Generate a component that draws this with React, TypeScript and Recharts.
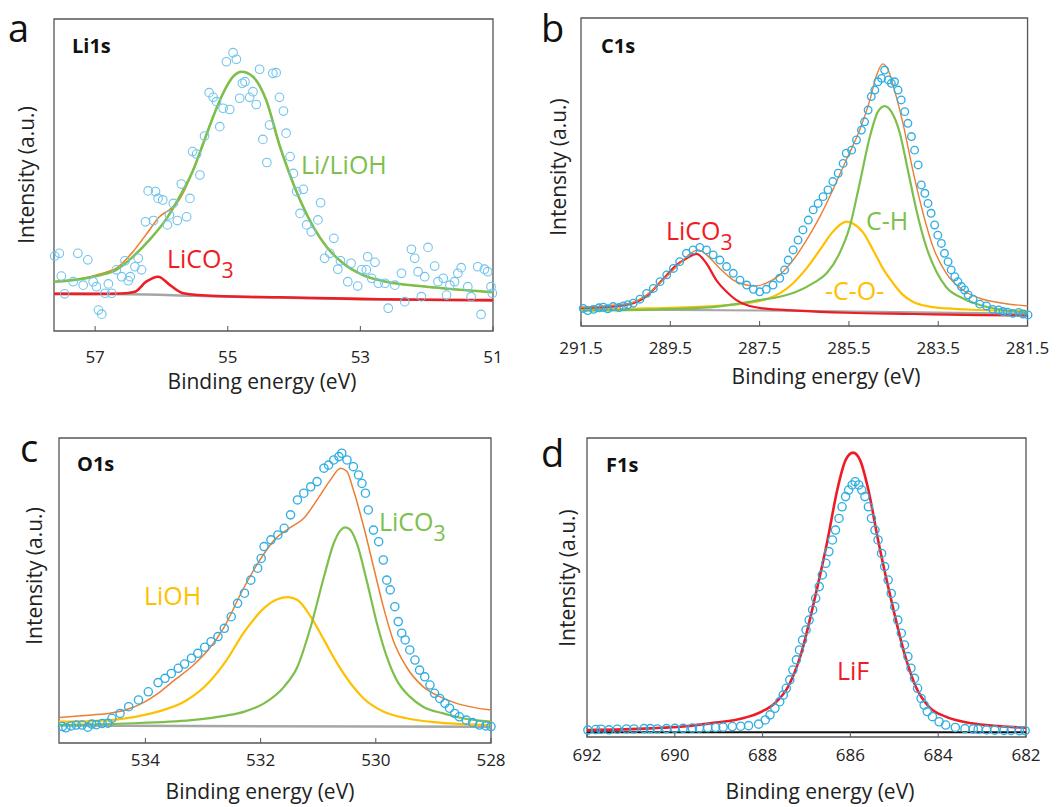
import React from "react";
import { ComposedChart, Line, Scatter, XAxis, YAxis, ReferenceArea } from "recharts";

const FONT = "'Open Sans', 'DejaVu Sans', sans-serif";

const COLORS = {
  data: "#2faee3",
  dataLight: "#6fc4ec",
  sum: "#ed7d31",
  green: "#7cc04b",
  red: "#ee1c24",
  gold: "#ffc000",
  gray: "#a6a6a6",
  black: "#111111",
  frame: "#555555",
};

type Pt = [number, number];

// ---- a: Li1s ----
const li1sTicks = [57, 55, 53, 51];
const li1sPoints: Pt[] = [
  [57.61, 24.0], [57.54, 24.9], [57.51, 17.6], [57.46, 11.9], [57.33, 15.8], [57.26, 24.9], [57.18, 14.7],
  [57.11, 22.8], [57.03, 15.8], [56.98, 14.2], [56.95, 6.7], [56.9, 5.4], [56.8, 15.1], [56.85, 12.1],
  [56.75, 12.1], [56.68, 19.6], [56.6, 17.4], [56.55, 22.5], [56.5, 16.1], [56.47, 17.4], [56.4, 20.6],
  [56.35, 23.3], [56.3, 19.6], [56.2, 44.9], [56.09, 44.7], [56.05, 42.5], [55.98, 42.0], [56.24, 35.0],
  [56.12, 35.4], [55.91, 34.0], [55.82, 40.9], [55.88, 37.2], [55.76, 35.4], [55.7, 47.1], [55.57, 42.5],
  [55.62, 36.6], [55.53, 57.5], [55.47, 56.7], [55.42, 50.0], [55.35, 62.5], [55.28, 76.4], [55.22, 74.9],
  [55.17, 73.5], [55.12, 65.5], [55.07, 71.4], [54.97, 71.0], [55.02, 86.3], [54.92, 89.2], [54.87, 87.1],
  [54.78, 79.4], [54.74, 79.9], [54.82, 74.6], [54.67, 74.9], [54.62, 76.7], [54.57, 72.6], [54.52, 83.9],
  [54.47, 61.4], [54.41, 54.0], [54.37, 66.0], [54.32, 82.6], [54.27, 82.8], [54.22, 74.9], [54.16, 70.5],
  [54.12, 63.4], [54.06, 55.9], [54.01, 50.5], [53.96, 44.7], [53.86, 45.4], [53.6, 41.1], [53.91, 37.7],
  [53.81, 34.0], [53.74, 31.8], [53.64, 35.6], [53.4, 29.7], [53.54, 23.3], [53.46, 24.9], [53.3, 22.5],
  [53.34, 19.8], [53.19, 15.8], [53.14, 21.7], [53.04, 14.4], [52.98, 19.6], [52.89, 23.8], [52.91, 19.6],
  [52.78, 22.0], [52.83, 16.9], [52.73, 15.3], [52.63, 15.3], [52.58, 7.3], [52.48, 14.7], [52.38, 18.5],
  [52.33, 9.4], [52.23, 26.2], [52.18, 23.3], [52.13, 19.0], [52.08, 11.0], [52.03, 17.4], [51.98, 26.8],
  [51.88, 20.8], [51.83, 15.8], [51.75, 16.9], [51.7, 11.5], [51.65, 14.7], [51.58, 15.8], [51.53, 18.5],
  [51.48, 20.3], [51.38, 14.2], [51.33, 11.0], [51.23, 20.6], [51.18, 5.3], [51.13, 19.8], [51.08, 19.0],
  [51.03, 14.2], [51.01, 12.1],
];
const li1sBase: Pt[] = [[57.62, 11.9], [56.5, 11.8], [55.5, 11.3], [54.5, 10.8], [53, 10.2], [51, 9.8]];
const li1sLiOH: Pt[] = [
  [57.62, 15.8], [57.2, 16.7], [56.93, 17.9], [56.68, 19.6], [56.43, 23.8], [56.18, 29.2], [55.92, 36.1],
  [55.67, 45.2], [55.52, 51.6], [55.37, 60.1], [55.22, 68.7], [55.07, 76.2], [54.92, 81.5], [54.79, 83.1],
  [54.62, 81.5], [54.42, 74.0], [54.22, 59.6], [54.07, 50.5], [53.91, 42.0], [53.71, 33.4], [53.51, 27.0],
  [53.26, 21.7], [52.96, 17.9], [52.61, 15.8], [52.11, 14.4], [51.6, 13.4], [51.0, 12.4],
];
const li1sSum: Pt[] = [
  [57.62, 15.8], [57.2, 16.8], [56.93, 18.3], [56.68, 20.1], [56.43, 25.4], [56.18, 32.4], [56.03, 36.6],
  [55.87, 39.0], [55.75, 41.5], [55.62, 46.6], [55.52, 51.8], [55.37, 60.1], [55.22, 68.7], [55.07, 76.2],
  [54.92, 81.5], [54.79, 83.1], [54.62, 81.5], [54.42, 74.0], [54.22, 59.6], [54.07, 50.5], [53.91, 42.0],
  [53.71, 33.4], [53.51, 27.0], [53.26, 21.7], [52.96, 17.9], [52.61, 15.8], [52.11, 14.4], [51.6, 13.4],
  [51.0, 12.4],
];
const li1sCO3: Pt[] = [
  [57.62, 11.9], [57.0, 11.9], [56.6, 12.0], [56.4, 12.6], [56.23, 15.8], [56.05, 17.4], [55.87, 14.7],
  [55.67, 12.1], [55.17, 11.2], [54.22, 10.8], [53.0, 10.3], [52.0, 10.0], [51.0, 9.9],
];

// ---- b: C1s ----
const c1sTicks = [291.5, 289.5, 287.5, 285.5, 283.5, 281.5];
const c1sPoints: Pt[] = [
  [291.45, 5.7], [291.35, 5.0], [291.22, 5.4], [291.1, 5.9], [291.0, 6.1], [290.9, 5.6], [290.78, 6.3],
  [290.65, 6.0], [290.55, 6.5], [290.45, 6.9], [290.33, 7.4], [290.18, 8.7], [290.03, 10.6], [289.88, 12.2],
  [289.73, 14.4], [289.58, 16.6], [289.43, 18.7], [289.29, 20.9], [289.14, 23.6], [288.99, 24.7],
  [288.84, 25.5], [288.69, 24.7], [288.54, 23.1], [288.39, 21.4], [288.24, 19.3], [288.09, 17.1],
  [287.94, 14.9], [287.79, 13.3], [287.64, 11.9], [287.5, 11.1], [287.35, 11.9], [287.2, 13.3],
  [287.05, 15.5], [286.94, 18.2], [286.86, 21.4], [286.75, 24.7], [286.64, 27.9], [286.53, 31.2],
  [286.41, 34.4], [286.3, 37.7], [286.19, 39.8], [286.08, 42.0], [285.97, 44.2], [285.86, 46.9],
  [285.74, 49.6], [285.63, 52.8], [285.56, 56.1], [285.44, 57.1], [285.33, 60.4], [285.22, 63.6],
  [285.15, 66.3], [285.07, 70.1], [285.0, 74.5], [284.92, 76.6], [284.85, 79.3], [284.77, 80.4],
  [284.7, 83.1], [284.62, 79.9], [284.55, 78.8], [284.48, 79.3], [284.4, 76.6], [284.33, 73.4],
  [284.25, 69.6], [284.18, 65.8], [284.1, 61.5], [284.03, 57.1], [283.95, 52.3], [283.88, 45.8],
  [283.8, 43.1], [283.73, 39.8], [283.66, 36.6], [283.58, 32.8], [283.51, 29.5], [283.43, 26.8],
  [283.36, 23.6], [283.28, 20.9], [283.21, 18.2], [283.13, 16.0], [283.06, 14.4], [282.98, 12.8],
  [282.91, 11.7], [282.83, 10.1], [282.72, 8.7], [282.57, 7.1], [282.42, 6.5], [282.28, 5.4],
  [282.15, 5.2], [282.05, 4.7], [281.95, 4.5], [281.83, 4.1], [281.7, 4.4], [281.6, 3.9], [281.49, 3.6],
];
const c1sBase: Pt[] = [[291.5, 5.4], [287, 5.0], [284, 4.4], [281.5, 4.0]];
const c1sCO3: Pt[] = [
  [291.5, 5.9], [290.8, 6.3], [290.3, 7.6], [290.05, 9.5], [289.68, 14.9], [289.37, 19.7], [289.14, 21.9],
  [288.91, 23.4], [288.69, 20.3], [288.47, 14.9], [288.24, 11.1], [288.02, 8.4], [287.79, 6.8],
  [287.42, 5.7], [286.68, 5.0], [285.56, 4.3], [284.07, 3.9], [282.57, 3.5], [281.5, 3.4],
];
const c1sCO: Pt[] = [
  [291.5, 5.2], [290.03, 5.7], [288.54, 6.5], [287.79, 7.4], [287.35, 8.7], [287.05, 10.6], [286.75, 13.9],
  [286.45, 18.7], [286.15, 24.7], [285.86, 30.6], [285.63, 33.5], [285.56, 33.9], [285.41, 33.3],
  [285.18, 30.3], [284.96, 24.7], [284.74, 18.7], [284.51, 13.9], [284.29, 10.1], [284.07, 7.9],
  [283.69, 6.3], [283.32, 5.7], [282.57, 5.2], [281.5, 4.9],
];
const c1sCH: Pt[] = [
  [291.5, 5.0], [290.0, 5.3], [288.5, 6.2], [287.5, 8.4], [287.05, 9.5], [286.68, 11.1], [286.3, 13.9],
  [286.0, 17.1], [285.71, 23.6], [285.48, 32.3], [285.26, 46.3], [285.03, 61.5], [284.85, 69.6],
  [284.7, 71.4], [284.55, 69.6], [284.36, 62.6], [284.18, 50.6], [283.99, 37.7], [283.77, 25.8],
  [283.54, 17.6], [283.32, 12.6], [282.95, 9.0], [282.57, 6.8], [282.05, 5.2], [281.5, 4.4],
];
const c1sSum: Pt[] = [
  [291.5, 6.1], [290.4, 7.4], [290.03, 10.1], [289.66, 14.9], [289.29, 20.3], [289.06, 23.4], [288.88, 24.7],
  [288.69, 23.1], [288.39, 18.7], [288.09, 14.9], [287.79, 13.3], [287.57, 13.0], [287.35, 13.9],
  [287.05, 16.6], [286.75, 21.4], [286.45, 27.9], [286.15, 35.5], [285.86, 44.2], [285.56, 53.9],
  [285.26, 63.6], [285.03, 73.4], [284.89, 81.0], [284.74, 85.1], [284.62, 83.1], [284.48, 76.6],
  [284.29, 65.8], [284.07, 50.6], [283.84, 36.6], [283.62, 25.8], [283.32, 17.1], [282.95, 11.7],
  [282.57, 9.0], [282.05, 7.4], [281.5, 6.5],
];

// ---- c: O1s ----
const o1sTicks = [534, 532, 530, 528];
const o1sPoints: Pt[] = [
  [535.44, 5.4], [535.38, 5.0], [535.29, 5.6], [535.2, 5.9], [535.1, 5.9], [535.0, 5.2], [534.93, 6.2],
  [534.85, 6.0], [534.75, 6.4], [534.65, 6.5], [534.58, 8.1], [534.44, 9.7], [534.29, 11.9], [534.12, 14.1],
  [533.95, 16.8], [533.78, 19.8], [533.66, 21.2], [533.55, 22.8], [533.43, 24.5], [533.32, 25.9],
  [533.2, 27.8], [533.09, 29.4], [532.97, 31.4], [532.86, 33.2], [532.74, 34.9], [532.63, 37.6],
  [532.51, 41.4], [532.4, 45.8], [532.28, 49.1], [532.17, 53.4], [532.05, 57.3], [531.99, 60.5],
  [531.94, 64.4], [531.82, 66.6], [531.7, 68.2], [531.59, 70.4], [531.48, 74.8], [531.36, 79.7],
  [531.25, 81.9], [531.13, 84.0], [531.02, 85.7], [530.9, 90.1], [530.82, 91.1], [530.73, 92.8],
  [530.64, 93.9], [530.59, 95.0], [530.5, 92.8], [530.39, 90.6], [530.3, 87.9], [530.24, 85.1],
  [530.18, 81.9], [530.13, 76.4], [530.04, 69.8], [529.95, 66.0], [529.87, 60.0], [529.81, 53.4],
  [529.75, 50.2], [529.67, 44.7], [529.61, 39.8], [529.55, 36.0], [529.49, 33.8], [529.41, 30.5],
  [529.32, 27.2], [529.24, 23.9], [529.15, 21.7], [529.06, 19.0], [528.98, 16.3], [528.89, 14.6],
  [528.8, 13.0], [528.72, 11.4], [528.63, 9.7], [528.55, 8.6], [528.43, 7.5], [528.32, 6.7],
  [528.2, 5.9], [528.09, 5.6], [528.0, 5.4],
];
const o1sBase: Pt[] = [[535.5, 5.7], [528, 5.3]];
const o1sLiOH: Pt[] = [
  [535.5, 7.0], [534.93, 7.2], [534.35, 8.1], [533.78, 10.3], [533.32, 13.6], [532.97, 18.5], [532.63, 26.1],
  [532.28, 36.5], [531.94, 44.2], [531.71, 47.1], [531.53, 47.8], [531.36, 46.9], [531.13, 41.4],
  [530.9, 33.8], [530.67, 26.1], [530.44, 19.6], [530.21, 14.6], [529.87, 10.3], [529.47, 8.1],
  [528.89, 6.7], [528.0, 5.9],
];
const o1sCO3: Pt[] = [
  [535.5, 5.9], [534.35, 6.4], [533.2, 7.5], [532.63, 8.9], [532.28, 10.3], [531.94, 13.0], [531.59, 18.5],
  [531.36, 25.0], [531.13, 38.1], [530.9, 54.5], [530.73, 65.5], [530.61, 69.8], [530.53, 70.7],
  [530.44, 69.8], [530.33, 65.5], [530.16, 53.4], [529.98, 39.2], [529.81, 28.3], [529.64, 20.7],
  [529.41, 15.2], [529.18, 11.9], [528.83, 9.7], [528.49, 8.1], [528.0, 7.0],
];
const o1sSum: Pt[] = [
  [535.5, 8.4], [534.93, 9.2], [534.64, 9.7], [534.35, 10.8], [534.06, 13.0], [533.78, 16.3], [533.49, 20.7],
  [533.2, 25.0], [532.91, 30.5], [532.63, 38.1], [532.34, 49.1], [532.05, 58.9], [531.76, 66.6],
  [531.48, 70.7], [531.25, 73.7], [531.02, 79.7], [530.79, 86.2], [530.61, 90.1], [530.5, 89.0],
  [530.39, 83.0], [530.21, 70.9], [530.04, 57.8], [529.87, 44.7], [529.7, 33.8], [529.47, 25.0],
  [529.18, 18.5], [528.89, 15.2], [528.6, 13.0], [528.0, 10.8],
];

// ---- d: F1s ----
const f1sTicks = [692, 690, 688, 686, 684, 682];
const f1sPoints: Pt[] = [
  [691.98, 2.3], [691.8, 2.5], [691.68, 2.6], [691.5, 2.4], [691.31, 2.6], [691.1, 2.7], [690.93, 2.7],
  [690.7, 2.8], [690.56, 2.8], [690.4, 2.7], [690.19, 2.8], [690.0, 2.9], [689.81, 2.9], [689.6, 3.0],
  [689.44, 3.0], [689.25, 3.1], [689.07, 3.2], [688.9, 3.3], [688.69, 3.5], [688.5, 3.6], [688.32, 3.8],
  [688.09, 4.3], [687.94, 5.7], [687.83, 7.4], [687.72, 9.6], [687.61, 11.8], [687.53, 14.0],
  [687.46, 16.3], [687.38, 19.1], [687.31, 22.4], [687.23, 25.8], [687.16, 29.1], [687.09, 32.4],
  [687.01, 35.8], [686.94, 39.1], [686.86, 42.5], [686.79, 46.4], [686.71, 50.3], [686.64, 54.2],
  [686.56, 58.1], [686.49, 62.0], [686.41, 65.9], [686.34, 69.2], [686.26, 73.1], [686.19, 77.0],
  [686.11, 80.4], [686.04, 82.6], [685.96, 84.3], [685.89, 85.4], [685.81, 84.3], [685.74, 82.6],
  [685.67, 80.4], [685.59, 77.0], [685.52, 73.1], [685.44, 69.2], [685.37, 65.9], [685.29, 61.4],
  [685.22, 57.0], [685.14, 52.5], [685.07, 48.0], [684.99, 43.6], [684.92, 39.1], [684.84, 34.7],
  [684.77, 30.8], [684.69, 26.9], [684.62, 23.0], [684.54, 19.6], [684.47, 16.3], [684.39, 12.9],
  [684.32, 10.7], [684.25, 8.5], [684.13, 6.8], [683.98, 5.1], [683.83, 4.0], [683.61, 3.2],
  [683.39, 2.8], [683.2, 2.7], [683.09, 2.6], [682.9, 2.4], [682.71, 2.3], [682.5, 2.2], [682.34, 2.2],
  [682.15, 2.1], [682.02, 2.1],
];
const f1sBase: Pt[] = [[692, 1.6], [682, 1.6]];
const f1sLiF: Pt[] = [
  [692, 2.3], [690.56, 2.9], [689.81, 3.5], [689.07, 4.8], [688.47, 6.2], [688.02, 8.5], [687.72, 11.3],
  [687.42, 16.8], [687.12, 28.0], [686.82, 45.8], [686.52, 65.9], [686.3, 82.6], [686.11, 92.6],
  [685.94, 95.1], [685.78, 92.6], [685.59, 82.6], [685.37, 65.9], [685.07, 45.8], [684.77, 28.0],
  [684.51, 16.8], [684.21, 10.1], [683.83, 6.8], [683.24, 4.6], [682, 3.1],
];

const toXY = (pts: Pt[]) => pts.map(([x, y]) => ({ x, y }));

type Curve = { pts: Pt[]; color: string; width: number };

type PanelProps = {
  left: number;
  top: number;
  width: number;
  height: number;
  margin: { top: number; right: number; bottom: number; left: number };
  domain: [number, number];
  ticks: number[];
  tickMargin: number;
  points: Pt[];
  dotColor: string;
  dotR: number;
  dotStroke: number;
  curves: Curve[];
  dotsOnTop: boolean;
};

const AXIS_H = 30;

function XpsPanel(p: PanelProps) {
  const dots = (
    <Scatter
      key="dots"
      data={toXY(p.points)}
      isAnimationActive={false}
      shape={(s: any) => (
        <circle cx={s.cx} cy={s.cy} r={p.dotR} fill="none" stroke={p.dotColor} strokeWidth={p.dotStroke} />
      )}
    />
  );
  const lines = p.curves.map((c, i) => (
    <Line
      key={"l" + i}
      data={toXY(c.pts)}
      dataKey="y"
      type="monotone"
      stroke={c.color}
      strokeWidth={c.width}
      dot={false}
      activeDot={false}
      isAnimationActive={false}
    />
  ));
  // the bottom axis eats AXIS_H of the bottom margin
  const margin = { ...p.margin, bottom: p.margin.bottom - AXIS_H };
  return (
    <div style={{ position: "absolute", left: p.left, top: p.top }}>
      <ComposedChart width={p.width} height={p.height} margin={margin}>
        <XAxis
          type="number"
          dataKey="x"
          domain={p.domain}
          reversed
          ticks={p.ticks}
          interval={0}
          height={AXIS_H}
          tickSize={-5}
          tickMargin={p.tickMargin}
          axisLine={false}
          tickLine={{ stroke: COLORS.frame }}
          tick={{ fill: "#222", fontSize: 17, fontFamily: FONT }}
        />
        <YAxis hide type="number" dataKey="y" domain={[0, 100]} />
        <ReferenceArea
          x1={p.domain[0]}
          x2={p.domain[1]}
          y1={0}
          y2={100}
          fill="none"
          fillOpacity={0}
          stroke={COLORS.frame}
          strokeWidth={1.3}
        />
        {p.dotsOnTop ? [...lines, dots] : [dots, ...lines]}
      </ComposedChart>
    </div>
  );
}

function Sub({ x, y, text, color, size }: { x: number; y: number; text: string; color: string; size: number }) {
  return (
    <text x={x} y={y} fill={color} fontSize={size} fontFamily={FONT}>
      {text}
      <tspan dy={size * 0.38} fontSize={size * 0.85}>3</tspan>
    </text>
  );
}

function Overlay() {
  const title = { fontFamily: FONT, fontSize: 21, fill: "#222", textAnchor: "middle" as const };
  const ylab = (x: number, y: number) => (
    <text
      x={x}
      y={y}
      transform={`rotate(-90, ${x}, ${y})`}
      textAnchor="middle"
      dominantBaseline="central"
      fontFamily={FONT}
      fontSize={21}
      fill="#222"
    >
      Intensity (a.u.)
    </text>
  );
  const letter = { fontFamily: FONT, fontSize: 38, fill: "#111" };
  const core = { fontFamily: FONT, fontSize: 20, fontWeight: 700, fill: "#111" };
  const ann = 25;
  return (
    <svg width={1063} height={807} style={{ position: "absolute", left: 0, top: 0, pointerEvents: "none" }}>
      <text x={8} y={42} {...letter}>a</text>
      <text x={541} y={42} {...letter}>b</text>
      <text x={20} y={462} {...letter}>c</text>
      <text x={541} y={467} {...letter}>d</text>

      <text x={72} y={53} {...core}>Li1s</text>
      <text x={601} y={53} {...core}>C1s</text>
      <text x={77} y={471} {...core}>O1s</text>
      <text x={606} y={472} {...core}>F1s</text>

      <text x={262} y={389} {...title}>Binding energy (eV)</text>
      <text x={826} y={384} {...title}>Binding energy (eV)</text>
      <text x={260} y={799} {...title}>Binding energy (eV)</text>
      <text x={820} y={799} {...title}>Binding energy (eV)</text>

      {ylab(26, 175)}
      {ylab(558, 167)}
      {ylab(34, 576)}
      {ylab(567, 578)}

      <text x={301} y={174} fill={COLORS.green} fontSize={ann} fontFamily={FONT}>Li/LiOH</text>
      <Sub x={167} y={268} text="LiCO" color={COLORS.red} size={ann} />
      <Sub x={666} y={240} text="LiCO" color={COLORS.red} size={ann} />
      <text x={866} y={230} fill={COLORS.green} fontSize={ann} fontFamily={FONT}>C-H</text>
      <text x={825} y={300} fill={COLORS.gold} fontSize={ann} fontFamily={FONT}>-C-O-</text>
      <text x={144} y={605} fill={COLORS.gold} fontSize={ann} fontFamily={FONT}>LiOH</text>
      <Sub x={379} y={531} text="LiCO" color={COLORS.green} size={ann} />
      <text x={837} y={680} fill={COLORS.red} fontSize={ann} fontFamily={FONT}>LiF</text>
    </svg>
  );
}

export default function App() {
  return (
    <div
      style={{
        position: "absolute",
        left: 0,
        top: 0,
        width: 1063,
        height: 807,
        background: "#fff",
        fontFamily: FONT,
        overflow: "hidden",
      }}
    >
      <XpsPanel
        left={0}
        top={0}
        width={530}
        height={400}
        margin={{ top: 19, right: 37, bottom: 69, left: 54 }}
        domain={[51, 57.62]}
        ticks={li1sTicks}
        tickMargin={25}
        points={li1sPoints}
        dotColor={COLORS.dataLight}
        dotR={4.3}
        dotStroke={1.1}
        dotsOnTop={false}
        curves={[
          { pts: li1sBase, color: COLORS.gray, width: 2.5 },
          { pts: li1sSum, color: COLORS.sum, width: 1.6 },
          { pts: li1sLiOH, color: COLORS.green, width: 2.6 },
          { pts: li1sCO3, color: COLORS.red, width: 2.6 },
        ]}
      />
      <XpsPanel
        left={530}
        top={0}
        width={533}
        height={400}
        margin={{ top: 18, right: 35, bottom: 74, left: 51 }}
        domain={[281.5, 291.5]}
        ticks={c1sTicks}
        tickMargin={21}
        points={c1sPoints}
        dotColor={COLORS.data}
        dotR={3.8}
        dotStroke={1.35}
        dotsOnTop={true}
        curves={[
          { pts: c1sBase, color: COLORS.gray, width: 2.2 },
          { pts: c1sCO, color: COLORS.gold, width: 2.2 },
          { pts: c1sCH, color: COLORS.green, width: 2.2 },
          { pts: c1sCO3, color: COLORS.red, width: 2.2 },
          { pts: c1sSum, color: COLORS.sum, width: 1.4 },
        ]}
      />
      <XpsPanel
        left={0}
        top={400}
        width={530}
        height={407}
        margin={{ top: 38, right: 39, bottom: 64, left: 59 }}
        domain={[528, 535.5]}
        ticks={o1sTicks}
        tickMargin={16}
        points={o1sPoints}
        dotColor={COLORS.data}
        dotR={4.1}
        dotStroke={1.35}
        dotsOnTop={true}
        curves={[
          { pts: o1sBase, color: COLORS.gray, width: 2.5 },
          { pts: o1sLiOH, color: COLORS.gold, width: 2.2 },
          { pts: o1sCO3, color: COLORS.green, width: 2.2 },
          { pts: o1sSum, color: COLORS.sum, width: 1.5 },
        ]}
      />
      <XpsPanel
        left={530}
        top={400}
        width={533}
        height={407}
        margin={{ top: 38, right: 37, bottom: 70, left: 57 }}
        domain={[682, 692]}
        ticks={f1sTicks}
        tickMargin={17}
        points={f1sPoints}
        dotColor={COLORS.data}
        dotR={4.1}
        dotStroke={1.35}
        dotsOnTop={false}
        curves={[
          { pts: f1sBase, color: COLORS.black, width: 2 },
          { pts: f1sLiF, color: COLORS.red, width: 2.6 },
        ]}
      />
      <Overlay />
    </div>
  );
}
